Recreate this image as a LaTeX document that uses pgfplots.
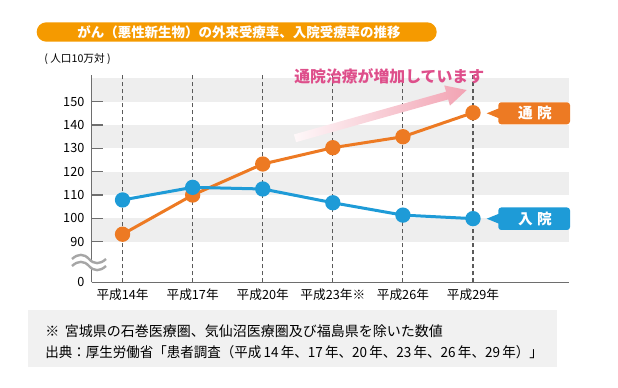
\documentclass[border=0pt]{standalone}
\usepackage{fontspec}
\setmainfont{Noto Sans CJK JP}
\usepackage{pgfplots}
\pgfplotsset{compat=1.18}
\definecolor{orangeL}{HTML}{ED7A23}
\definecolor{blueL}{HTML}{1E9BD7}
\definecolor{titleO}{HTML}{F59A00}
\definecolor{band}{HTML}{EEEEEE}
\definecolor{pinkT}{HTML}{DE4F8B}
\definecolor{pinkA}{HTML}{F2A3B3}
\definecolor{axisG}{HTML}{6E6E6E}
\definecolor{dashG}{HTML}{5A5A5A}
\definecolor{noteBG}{HTML}{F1F1F1}
\begin{document}
\begin{tikzpicture}
\begin{scope}[x=0.75pt,y=-0.75pt]
 \fill[titleO, rounded corners=7.2pt] (36.7,22.3) rectangle (436.7,41.7);
 \node[text=white, font=\fontsize{10.1}{12}\selectfont\bfseries, inner sep=0pt] at (239,32) {がん（悪性新生物）の外来受療率、入院受療率の推移};
 \node[font=\fontsize{8}{10}\selectfont, anchor=west, inner sep=0pt] at (44,59) {( 人口10万対 )};
 \fill[noteBG] (28.3,310) rectangle (556.7,366.7);
 \node[anchor=west, font=\fontsize{10.5}{12}\selectfont, inner sep=0pt] at (45,331.7) {※\hspace{0.4em}宮城県の石巻医療圏、気仙沼医療圏及び福島県を除いた数値};
 \node[anchor=west, font=\fontsize{10.5}{12}\selectfont, inner sep=0pt] at (45,351.7) {\scalebox{0.965}[1]{出典：厚生労働省「患者調査（平成\,14\,年、17\,年、20\,年、23\,年、26\,年、29\,年）」}};
\end{scope}
\begin{axis}[
 at={(68.78pt,-211.73pt)}, anchor=south west,
 scale only axis, width=358pt, height=155.55pt,
 xmin=-0.44, xmax=6.37, ymin=72.6, ymax=161.5,
 set layers,
 axis lines=left, axis line style={axisG, line width=1.1pt, -},
 xtick={0,...,5},
 xticklabels={平成14年,平成17年,平成20年,平成23年※,平成26年,平成29年},
 x tick style={draw=none},
 ytick={72.6,90,100,110,120,130,140,150},
 yticklabels={0,90,100,110,120,130,140,150},
 y tick style={axisG, line width=1.1pt},
 tick align=inside, major tick length=8.25pt,
 tick label style={font=\fontsize{9.5}{11}\selectfont},
 xticklabel style={yshift=-1.5pt},
 yticklabel style={xshift=-2pt},
 /pgf/number format/assume math mode=true,
 clip=false,
]
\begin{pgfonlayer}{axis background}
 \fill[band] (axis cs:-0.44,90) rectangle (axis cs:6.37,100);
 \fill[band] (axis cs:-0.44,110) rectangle (axis cs:6.37,120);
 \fill[band] (axis cs:-0.44,130) rectangle (axis cs:6.37,140);
 \fill[band] (axis cs:-0.44,150) rectangle (axis cs:6.37,160);
 \pgfplotsinvokeforeach{0,...,5}{
  \draw[dashG, line width=0.8pt, dash pattern=on 3pt off 2.25pt] (axis cs:#1,72.6) -- (axis cs:#1,161.5);
 }
\end{pgfonlayer}
\addplot[orangeL, line width=2.25pt, mark=*, mark size=4.6pt, mark options={solid}]
 coordinates {(0,93.2)(1,110)(2,123.3)(3,130.3)(4,135)(5,145.3)};
\addplot[blueL, line width=2.25pt, mark=*, mark size=4.6pt, mark options={solid}]
 coordinates {(0,107.9)(1,113.3)(2,112.6)(3,106.7)(4,101.4)(5,99.9)};
\end{axis}
\begin{scope}[x=0.75pt,y=-0.75pt]
 % axis break
 \fill[white] (72,259) .. controls (78,253.5) and (84,253.5) .. (89,259) .. controls (94,264.5) and (100,264.5) .. (106,259)
   -- (106,266) .. controls (100,271.5) and (94,271.5) .. (89,266) .. controls (84,260.5) and (78,260.5) .. (72,266) -- cycle;
 \draw[gray!70, line width=1.8pt] (72,259) .. controls (78,253.5) and (84,253.5) .. (89,259) .. controls (94,264.5) and (100,264.5) .. (106,259);
 \draw[gray!70, line width=1.8pt] (72,266) .. controls (78,260.5) and (84,260.5) .. (89,266) .. controls (94,271.5) and (100,271.5) .. (106,266);
 % arrow
 \begin{scope}[shift={(295,138.3)}, rotate=15.7]
  \shade[left color=pinkA!8, right color=pinkA] (0,-4) -- (158,-4) -- (158,-10.5) -- (178.4,0) -- (158,10.5) -- (158,4) -- (0,4) -- cycle;
 \end{scope}
 \node[text=pinkT, font=\fontsize{11.9}{14}\selectfont\bfseries, anchor=west, inner sep=0pt] at (294,76) {通院治療が増加しています};
 % labels
 \fill[orangeL, rounded corners=2.2pt] (498.3,102.3) rectangle (570,124.3);
 \fill[orangeL] (486.7,113.3) -- (499,108.3) -- (499,118.3) -- cycle;
 \node[text=white, font=\fontsize{11}{13}\selectfont\bfseries, inner sep=0pt] at (535,113.3) {通\hspace{0.3em}院};
 \fill[blueL, rounded corners=2.2pt] (498.3,207.5) rectangle (570,230);
 \fill[blueL] (486.7,218.7) -- (499,213.7) -- (499,223.7) -- cycle;
 \node[text=white, font=\fontsize{11}{13}\selectfont\bfseries, inner sep=0pt] at (535,218.7) {入\hspace{0.3em}院};
\end{scope}
\pgfresetboundingbox
\path[use as bounding box] (0,0) rectangle (463.5pt,-291pt);
\end{tikzpicture}
\end{document}
